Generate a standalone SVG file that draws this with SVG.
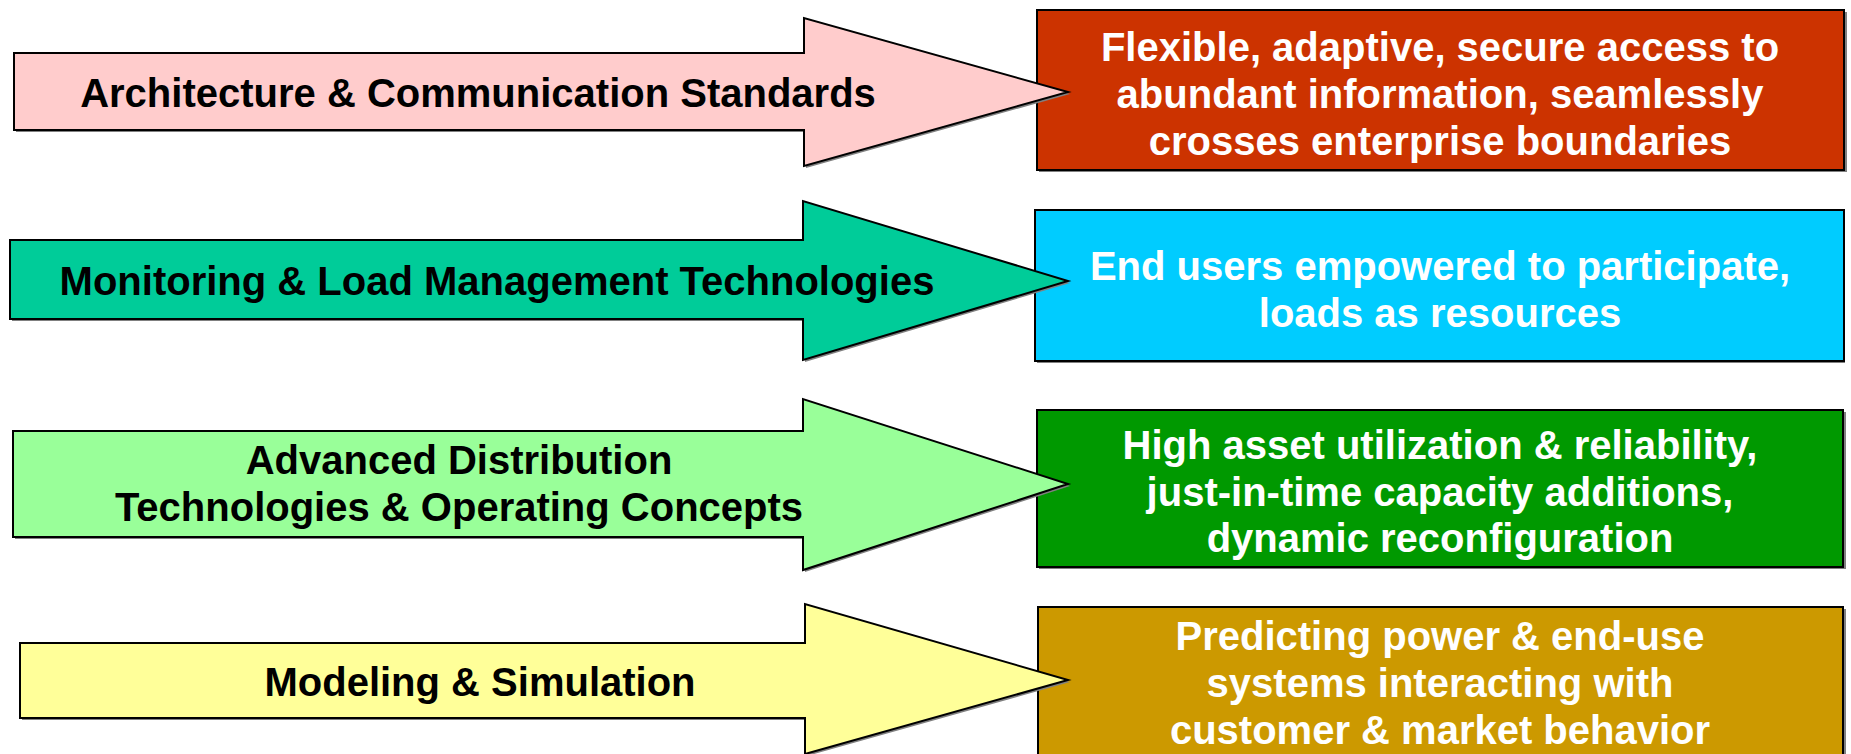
<svg xmlns="http://www.w3.org/2000/svg" width="1851" height="754" viewBox="0 0 1851 754">
<style>
.arrow{stroke:#000;stroke-width:2;stroke-linejoin:miter}
.box{stroke:#000;stroke-width:2}
.shadow{fill:#808080}
.lbl{font-family:"Liberation Sans",Arial,sans-serif;font-weight:bold;font-size:40px;text-anchor:middle;fill:#000}
.out{font-family:"Liberation Sans",Arial,sans-serif;font-weight:bold;font-size:40px;text-anchor:middle;fill:#fff}
</style>
<rect width="1851" height="754" fill="#fff"/>
<g id="connectors"></g>
<g id="box1">
<rect class="shadow" x="1039" y="12" width="808" height="160"/>
<rect class="box" fill="#CC3300" x="1037" y="10" width="807" height="160"/>
<text class="out" x="1440" y="61">Flexible, adaptive, secure access to</text>
<text class="out" x="1440" y="108">abundant information, seamlessly</text>
<text class="out" x="1440" y="155">crosses enterprise boundaries</text>
</g>
<g id="box2">
<rect class="shadow" x="1037" y="212" width="808" height="151"/>
<rect class="box" fill="#00CCFF" x="1035" y="210" width="809" height="151"/>
<text class="out" x="1440" y="280">End users empowered to participate,</text>
<text class="out" x="1440" y="327">loads as resources</text>
</g>
<g id="box3">
<rect class="shadow" x="1039" y="412" width="807" height="157"/>
<rect class="box" fill="#009900" x="1037" y="410" width="806" height="157"/>
<text class="out" x="1440" y="459">High asset utilization &amp; reliability,</text>
<text class="out" x="1440" y="506">just-in-time capacity additions,</text>
<text class="out" x="1440" y="552">dynamic reconfiguration</text>
</g>
<g id="box4">
<rect class="shadow" x="1040" y="609" width="806" height="160"/>
<rect class="box" fill="#CC9900" x="1038" y="607" width="805" height="160"/>
<text class="out" x="1440" y="650">Predicting power &amp; end-use</text>
<text class="out" x="1440" y="697">systems interacting with</text>
<text class="out" x="1440" y="744">customer &amp; market behavior</text>
</g>
<g id="arrow1">
<polygon class="shadow" points="16,55 806,55 806,20 1070,94 806,168 806,132 16,132"/>
<polygon class="arrow" fill="#FFCCCC" points="14,53 804,53 804,18 1068,92 804,166 804,130 14,130"/>
<text class="lbl" x="478" y="107">Architecture &amp; Communication Standards</text>
</g>
<g id="arrow2">
<polygon class="shadow" points="12,242 805,242 805,203 1070,283 805,362 805,321 12,321"/>
<polygon class="arrow" fill="#00CC99" points="10,240 803,240 803,201 1068,281 803,360 803,319 10,319"/>
<text class="lbl" x="497" y="295">Monitoring &amp; Load Management Technologies</text>
</g>
<g id="arrow3">
<polygon class="shadow" points="15,433 805,433 805,401 1070,486 805,572 805,539 15,539"/>
<polygon class="arrow" fill="#99FF99" points="13,431 803,431 803,399 1068,484 803,570 803,537 13,537"/>
<text class="lbl" x="459" y="474">Advanced Distribution</text>
<text class="lbl" x="459" y="521">Technologies &amp; Operating Concepts</text>
</g>
<g id="arrow4">
<polygon class="shadow" points="22,645 807,645 807,606 1070,682 807,756 807,720 22,720"/>
<polygon class="arrow" fill="#FFFF99" points="20,643 805,643 805,604 1068,680 805,754 805,718 20,718"/>
<text class="lbl" x="480" y="696">Modeling &amp; Simulation</text>
</g>
</svg>
